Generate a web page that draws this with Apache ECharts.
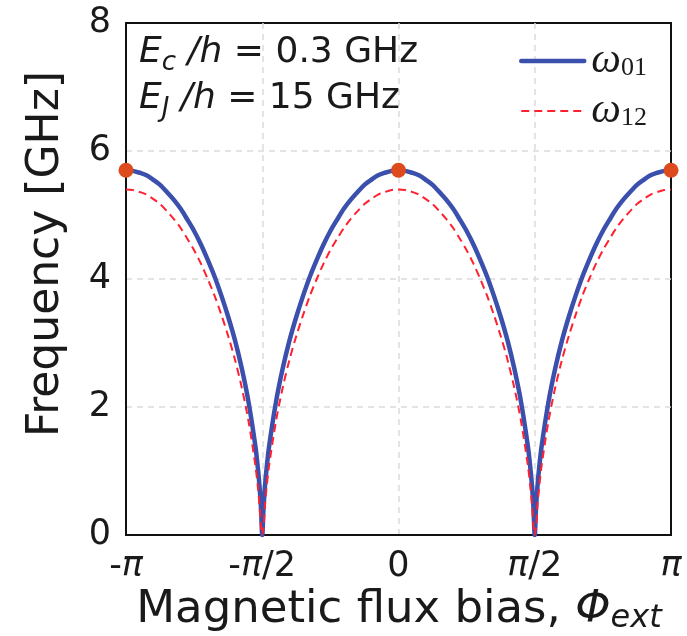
<!DOCTYPE html>
<html>
<head>
<meta charset="utf-8">
<script src="https://cdn.jsdelivr.net/npm/echarts@6/dist/echarts.min.js"></script>
<style>
  html, body { margin: 0; padding: 0; background: #ffffff; }
  #chart { width: 687px; height: 636px; }
</style>
</head>
<body>
<div id="chart"></div>
<script>
// Transmon transition frequencies versus external flux (flux given in units of π)
const fluxBias = [
  -1, -0.975, -0.95, -0.925, -0.9, -0.875, -0.85, -0.825, -0.8, -0.775, -0.75, -0.725,
  -0.7, -0.675, -0.65, -0.625, -0.6, -0.575, -0.55, -0.525, -0.515, -0.51, -0.505, -0.5,
  -0.495, -0.49, -0.485, -0.475, -0.45, -0.425, -0.4, -0.375, -0.35, -0.325, -0.3, -0.275,
  -0.25, -0.225, -0.2, -0.175, -0.15, -0.125, -0.1, -0.075, -0.05, -0.025, 0,
  0.025, 0.05, 0.075, 0.1, 0.125, 0.15, 0.175, 0.2, 0.225, 0.25, 0.275, 0.3,
  0.325, 0.35, 0.375, 0.4, 0.425, 0.45, 0.475, 0.485, 0.49, 0.495, 0.5,
  0.505, 0.51, 0.515, 0.525, 0.55, 0.575, 0.6, 0.625, 0.65, 0.675, 0.7, 0.725,
  0.75, 0.775, 0.8, 0.825, 0.85, 0.875, 0.9, 0.925, 0.95, 0.975, 1
];

const omega01 = [
  5.70, 5.69, 5.66, 5.62, 5.55, 5.47, 5.36, 5.24, 5.10, 4.93, 4.75, 4.54,
  4.30, 4.04, 3.74, 3.41, 3.04, 2.60, 2.07, 1.38, 1.00, 0.76, 0.45, 0,
  0.45, 0.76, 1.00, 1.38, 2.07, 2.60, 3.04, 3.41, 3.74, 4.04, 4.30, 4.54,
  4.75, 4.93, 5.10, 5.24, 5.36, 5.47, 5.55, 5.62, 5.66, 5.69, 5.70,
  5.69, 5.66, 5.62, 5.55, 5.47, 5.36, 5.24, 5.10, 4.93, 4.75, 4.54, 4.30,
  4.04, 3.74, 3.41, 3.04, 2.60, 2.07, 1.38, 1.00, 0.76, 0.45, 0,
  0.45, 0.76, 1.00, 1.38, 2.07, 2.60, 3.04, 3.41, 3.74, 4.04, 4.30, 4.54,
  4.75, 4.93, 5.10, 5.24, 5.36, 5.47, 5.55, 5.62, 5.66, 5.69, 5.70
];

const omega12 = [
  5.40, 5.39, 5.36, 5.32, 5.25, 5.17, 5.06, 4.94, 4.80, 4.63, 4.45, 4.24,
  4.00, 3.74, 3.44, 3.11, 2.74, 2.30, 1.77, 1.08, 0.70, 0.46, 0.15, 0,
  0.15, 0.46, 0.70, 1.08, 1.77, 2.30, 2.74, 3.11, 3.44, 3.74, 4.00, 4.24,
  4.45, 4.63, 4.80, 4.94, 5.06, 5.17, 5.25, 5.32, 5.36, 5.39, 5.40,
  5.39, 5.36, 5.32, 5.25, 5.17, 5.06, 4.94, 4.80, 4.63, 4.45, 4.24, 4.00,
  3.74, 3.44, 3.11, 2.74, 2.30, 1.77, 1.08, 0.70, 0.46, 0.15, 0,
  0.15, 0.46, 0.70, 1.08, 1.77, 2.30, 2.74, 3.11, 3.44, 3.74, 4.00, 4.24,
  4.45, 4.63, 4.80, 4.94, 5.06, 5.17, 5.25, 5.32, 5.36, 5.39, 5.40
];

// Sweet spots (first-order flux insensitive points)
const sweetFlux = [-1, 0, 1];
const sweetFreq = [5.70, 5.70, 5.70];

// Axis ticks
const fluxTicks = [-1, -0.5, 0, 0.5, 1];
const fluxTickLabels = ['{n|-}{i|π}', '{n|-}{i|π}{n|/2}', '{n|0}', '{i|π}{n|/2}', '{i|π}'];
const freqTicks = [0, 2, 4, 6, 8];

const SANS = 'DejaVu Sans';
const SERIF = 'Liberation Serif';
const INK = '#1a1a1a';
const BLUE = '#3b50ad';
const RED = '#ff2030';

const zip = (xs, ys) => xs.map((x, i) => [x, ys[i]]);

const chart = echarts.init(document.getElementById('chart'), null, { renderer: 'canvas' });

const tickFont = { fontFamily: SANS, fontSize: 35, color: INK };
const gridLine = { color: '#dcdcdc', width: 1.5, type: [6, 5] };

chart.setOption({
  backgroundColor: '#ffffff',
  animation: false,
  grid: {
    left: 126, right: 16, top: 23, bottom: 101,
    containLabel: false,
    outerBoundsMode: 'none',
    show: true,
    borderColor: '#111111',
    borderWidth: 2,
    backgroundColor: 'transparent'
  },
  xAxis: {
    type: 'value',
    min: -1, max: 1, interval: 0.5,
    axisLine: { show: true, onZero: false, lineStyle: { color: '#111111', width: 2 } },
    axisTick: { show: false },
    splitLine: { show: true, showMinLine: false, showMaxLine: false, lineStyle: gridLine },
    axisLabel: {
      show: true,
      showMinLabel: true,
      showMaxLabel: true,
      margin: 14,
      formatter: (v) => {
        const k = fluxTicks.findIndex(t => Math.abs(t - v) < 1e-9);
        return k >= 0 ? fluxTickLabels[k] : '';
      },
      rich: {
        n: Object.assign({}, tickFont),
        i: Object.assign({ fontStyle: 'italic' }, tickFont)
      }
    }
  },
  yAxis: {
    type: 'value',
    min: 0, max: 8, interval: 2,
    axisLine: { show: true, onZero: false, lineStyle: { color: '#111111', width: 2 } },
    axisTick: { show: false },
    splitLine: { show: true, showMinLine: false, showMaxLine: false, lineStyle: gridLine },
    axisLabel: Object.assign({
      showMinLabel: true,
      showMaxLabel: true,
      margin: 15,
      formatter: (v) => (freqTicks.indexOf(v) >= 0 ? String(v) : '')
    }, tickFont)
  },
  legend: {
    orient: 'vertical',
    left: 514,
    top: 35,
    itemWidth: 63,
    itemHeight: 14,
    itemGap: 8,
    itemStyle: { opacity: 0 },
    data: [
      { name: 'ω01', lineStyle: { width: 4.5, color: BLUE } },
      { name: 'ω12', lineStyle: { width: 2, color: RED, type: [8, 5] } }
    ],
    formatter: (name) => '{w|ω}{s|' + name.slice(1) + '}',
    textStyle: {
      color: INK,
      rich: {
        w: { fontFamily: SERIF, fontStyle: 'italic', fontSize: 42, lineHeight: 40, color: INK, padding: [0, 0, 0, 2] },
        s: { fontFamily: SERIF, fontSize: 26, lineHeight: 4, verticalAlign: 'bottom', color: INK }
      }
    }
  },
  graphic: [
    {
      type: 'text',
      left: 139,
      top: 35,
      z: 10,
      style: {
        text: '{i|E}{sub|c}{i| /h}{n| = 0.3 GHz}\n{i|E}{sub|J}{i| /h}{n| = 15 GHz}',
        rich: {
          i: { fontFamily: SANS, fontStyle: 'italic', fontSize: 36, lineHeight: 46, fill: INK },
          n: { fontFamily: SANS, fontSize: 36, lineHeight: 46, fill: INK },
          sub: { fontFamily: SANS, fontStyle: 'italic', fontSize: 26, lineHeight: 16, verticalAlign: 'bottom', fill: INK }
        }
      }
    },
    {
      type: 'text',
      x: 47,
      y: 254,
      rotation: Math.PI / 2,
      style: {
        text: 'Frequency [GHz]',
        fontFamily: SANS,
        fontSize: 44,
        fill: INK,
        align: 'center',
        verticalAlign: 'middle'
      }
    },
    {
      type: 'text',
      x: 399,
      y: 610,
      style: {
        text: '{n|Magnetic flux bias, }{i|Φ}{sub|ext}',
        align: 'center',
        verticalAlign: 'middle',
        rich: {
          n: { fontFamily: SANS, fontSize: 45, lineHeight: 50, fill: INK },
          i: { fontFamily: SANS, fontStyle: 'italic', fontSize: 45, lineHeight: 50, fill: INK },
          sub: { fontFamily: SANS, fontStyle: 'italic', fontSize: 32, lineHeight: 22, verticalAlign: 'bottom', fill: INK }
        }
      }
    }
  ],
  series: [
    {
      name: 'ω01',
      type: 'line',
      data: zip(fluxBias, omega01),
      symbol: 'none',
      showSymbol: false,
      smooth: 0.3,
      clip: true,
      z: 2,
      color: BLUE,
      lineStyle: { color: BLUE, width: 4.5, cap: 'round', join: 'round' }
    },
    {
      name: 'ω12',
      type: 'line',
      data: zip(fluxBias, omega12),
      symbol: 'none',
      showSymbol: false,
      smooth: 0.3,
      clip: true,
      z: 3,
      color: RED,
      lineStyle: { color: RED, width: 2, type: [8, 5] }
    },
    {
      name: 'sweet',
      type: 'scatter',
      data: zip(sweetFlux, sweetFreq),
      symbol: 'circle',
      symbolSize: 15,
      clip: false,
      z: 5,
      itemStyle: { color: '#dc4a1e', opacity: 1 }
    }
  ]
});
</script>
</body>
</html>
